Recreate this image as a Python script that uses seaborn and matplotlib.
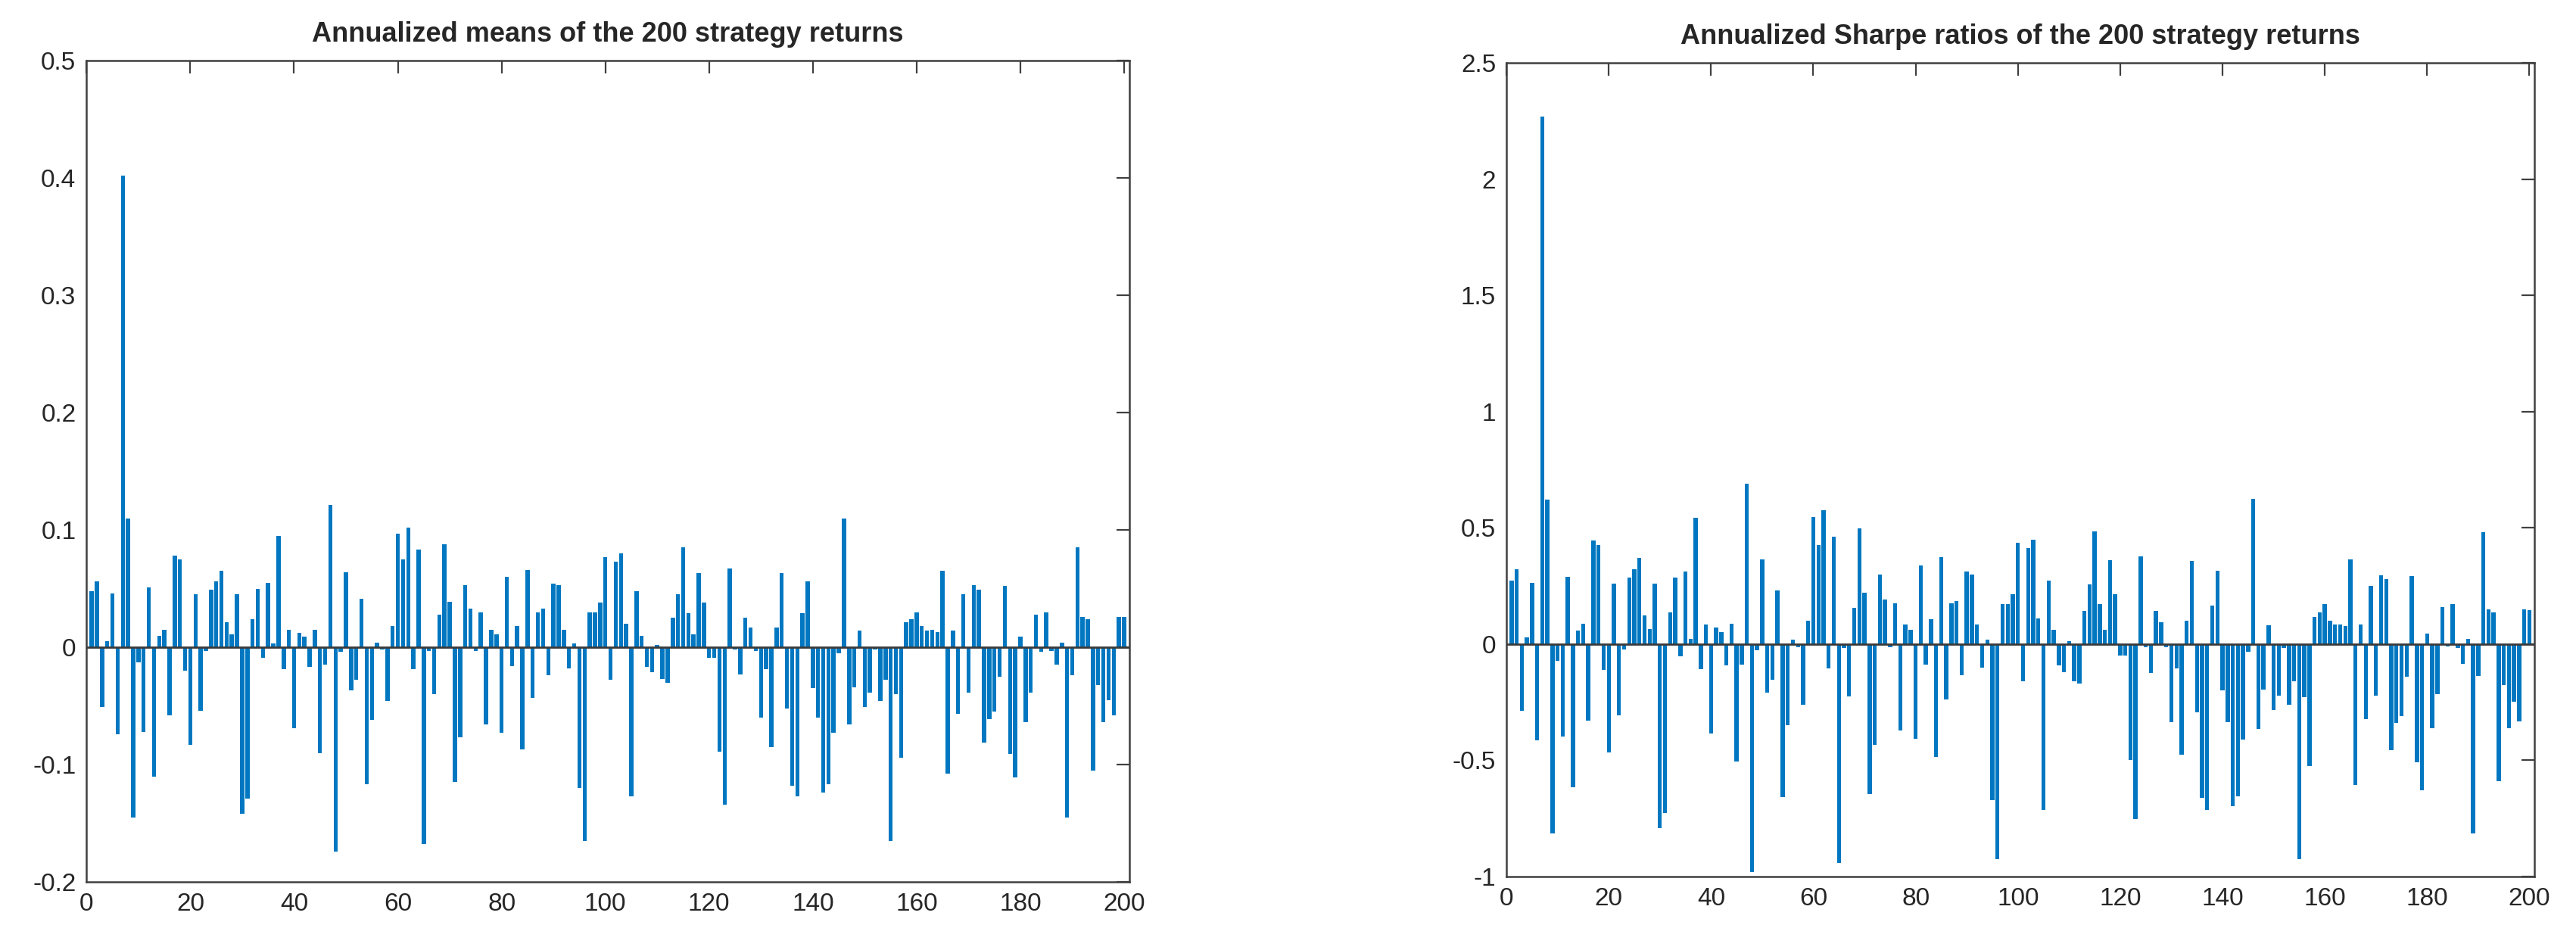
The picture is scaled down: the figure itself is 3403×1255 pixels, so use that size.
import numpy as np
import matplotlib
matplotlib.use("Agg")
import matplotlib.pyplot as plt
import seaborn as sns
from matplotlib.ticker import FuncFormatter

# strategy index 1..200
strategy = list(range(1, 201))

# annualized means
means = [
    0.048, 0.056, -0.051, 0.005, 0.046, -0.074, 0.402, 0.110, -0.145, -0.013,
    -0.072, 0.051, -0.110, 0.010, 0.015, -0.058, 0.078, 0.075, -0.020, -0.083,
    0.045, -0.054, -0.003, 0.049, 0.056, 0.065, 0.021, 0.011, 0.045, -0.142,
    -0.129, 0.024, 0.050, -0.009, 0.055, 0.003, 0.095, -0.019, 0.015, -0.069,
    0.012, 0.009, -0.017, 0.015, -0.090, -0.015, 0.121, -0.174, -0.004, 0.064,
    -0.037, -0.028, 0.041, -0.117, -0.062, 0.004, -0.002, -0.046, 0.018, 0.097,
    0.075, 0.102, -0.019, 0.083, -0.168, -0.003, -0.040, 0.028, 0.088, 0.039,
    -0.115, -0.077, 0.053, 0.033, -0.003, 0.030, -0.066, 0.015, 0.011, -0.073,
    0.060, -0.016, 0.018, -0.087, 0.066, -0.043, 0.030, 0.033, -0.024, 0.054,
    0.053, 0.015, -0.018, 0.003, -0.120, -0.165, 0.030, 0.030, 0.038, 0.077,
    -0.028, 0.073, 0.080, 0.020, -0.127, 0.048, 0.010, -0.017, -0.021, 0.002,
    -0.027, -0.030, 0.025, 0.045, 0.085, 0.029, 0.011, 0.063, 0.038, -0.009,
    -0.009, -0.089, -0.134, 0.067, -0.002, -0.023, 0.025, 0.017, -0.003, -0.060,
    -0.019, -0.085, 0.017, 0.063, -0.052, -0.118, -0.127, 0.029, 0.056, -0.035,
    -0.060, -0.124, -0.117, -0.073, -0.005, 0.110, -0.066, -0.034, 0.014, -0.051,
    -0.039, -0.002, -0.046, -0.028, -0.165, -0.040, -0.094, 0.021, 0.024, 0.030,
    0.018, 0.014, 0.015, 0.013, 0.065, -0.108, 0.014, -0.057, 0.045, -0.039,
    0.053, 0.049, -0.081, -0.061, -0.055, -0.025, 0.052, -0.091, -0.111, 0.009,
    -0.064, -0.039, 0.028, -0.004, 0.030, -0.003, -0.015, 0.004, -0.145, -0.024,
    0.085, 0.026, 0.024, -0.105, -0.032, -0.064, -0.045, -0.058, 0.026, 0.026,
]

# annualized Sharpe ratios
sharpe = [
    0.274, 0.323, -0.288, 0.029, 0.263, -0.413, 2.270, 0.622, -0.815, -0.073,
    -0.399, 0.290, -0.616, 0.057, 0.089, -0.328, 0.446, 0.426, -0.111, -0.466,
    0.261, -0.307, -0.024, 0.285, 0.323, 0.372, 0.124, 0.064, 0.261, -0.793,
    -0.725, 0.138, 0.287, -0.051, 0.312, 0.024, 0.543, -0.108, 0.086, -0.386,
    0.073, 0.053, -0.091, 0.089, -0.504, -0.089, 0.689, -0.980, -0.027, 0.366,
    -0.209, -0.154, 0.230, -0.657, -0.347, 0.021, -0.013, -0.261, 0.100, 0.546,
    0.426, 0.575, -0.105, 0.464, -0.940, -0.016, -0.225, 0.157, 0.499, 0.220,
    -0.646, -0.434, 0.301, 0.192, -0.013, 0.176, -0.370, 0.084, 0.062, -0.408,
    0.339, -0.089, 0.108, -0.484, 0.374, -0.239, 0.176, 0.187, -0.133, 0.312,
    0.298, 0.086, -0.102, 0.018, -0.671, -0.924, 0.173, 0.173, 0.216, 0.437,
    -0.160, 0.415, 0.450, 0.111, -0.714, 0.272, 0.062, -0.092, -0.122, 0.013,
    -0.160, -0.171, 0.143, 0.258, 0.486, 0.173, 0.062, 0.361, 0.216, -0.049,
    -0.049, -0.499, -0.752, 0.379, -0.014, -0.125, 0.143, 0.095, -0.013, -0.336,
    -0.103, -0.475, 0.100, 0.358, -0.293, -0.662, -0.712, 0.165, 0.317, -0.198,
    -0.336, -0.696, -0.654, -0.410, -0.032, 0.624, -0.364, -0.195, 0.080, -0.285,
    -0.222, -0.015, -0.260, -0.160, -0.926, -0.227, -0.526, 0.116, 0.138, 0.171,
    0.102, 0.084, 0.086, 0.078, 0.366, -0.605, 0.084, -0.321, 0.252, -0.222,
    0.296, 0.279, -0.455, -0.339, -0.310, -0.140, 0.293, -0.508, -0.629, 0.046,
    -0.361, -0.216, 0.160, -0.010, 0.171, -0.017, -0.086, 0.024, -0.815, -0.136,
    0.483, 0.149, 0.138, -0.589, -0.176, -0.361, -0.249, -0.332, 0.149, 0.146,
]

x_ticks = [0, 20, 40, 60, 80, 100, 120, 140, 160, 180, 200]
mean_ticks = [-0.2, -0.1, 0, 0.1, 0.2, 0.3, 0.4, 0.5]
sharpe_ticks = [-1, -0.5, 0, 0.5, 1, 1.5, 2, 2.5]

titles = ["Annualized means of the 200 strategy returns",
          "Annualized Sharpe ratios of the 200 strategy returns"]

sns.set_style("white")
plt.rcParams['font.family'] = ['Liberation Sans', 'DejaVu Sans']
plt.rcParams['axes.unicode_minus'] = False

bar_color = "#0077C0"
axis_color = "#404040"

fig = plt.figure(figsize=(34.03, 12.55), dpi=100)
ax1 = fig.add_axes([0.0336, 0.0717, 0.4048, 0.8645])
ax2 = fig.add_axes([0.5848, 0.0773, 0.3991, 0.8562])

fmt = FuncFormatter(lambda v, p: "%g" % round(v, 2))

for ax, vals, yt, title in [(ax1, means, mean_ticks, titles[0]),
                            (ax2, sharpe, sharpe_ticks, titles[1])]:
    sns.barplot(x=strategy, y=vals, native_scale=True, color=bar_color,
                saturation=1, width=0.8, linewidth=0, errorbar=None, ax=ax)
    ax.axhline(0, color="#3a3a3a", lw=2, zorder=3)
    ax.set_xlim(0, 201)
    ax.set_ylim(yt[0], yt[-1])
    ax.set_xticks(x_ticks)
    ax.set_yticks(yt)
    ax.yaxis.set_major_formatter(fmt)
    ax.xaxis.set_major_formatter(fmt)
    ax.tick_params(direction="in", length=12, width=1.6, colors=axis_color,
                   labelsize=24, labelcolor="#262626", top=True, right=True,
                   pad=10)
    for s in ax.spines.values():
        s.set_visible(True)
        s.set_color(axis_color)
        s.set_linewidth(1.8)
    ax.set_xlabel("")
    ax.set_ylabel("")
    ax.set_title(title, fontsize=26, fontweight="bold", pad=18)

fig.savefig("out.png", dpi=100)
